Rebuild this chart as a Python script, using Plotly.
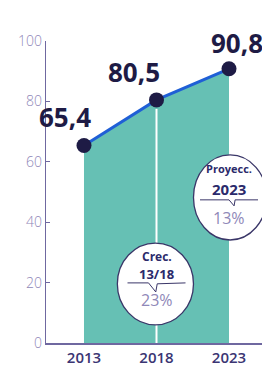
import plotly.graph_objects as go

years = [2013, 2018, 2023]
values = [65.4, 80.5, 90.8]
value_labels = ["65,4", "80,5", "90,8"]
y_ticks = [0, 20, 40, 60, 80, 100]
x_tick_labels = ["2013", "2018", "2023"]

NAVY = "#1e1b45"
TICK = "#8f88b8"
AXIS = "#6f68a0"
TEAL = "#66c0b4"
BLUE = "#1f5fd6"

fig = go.Figure()
fig.add_trace(go.Scatter(
    x=years, y=values, mode="lines+markers",
    fill="tozeroy", fillcolor=TEAL,
    line=dict(color=BLUE, width=3),
    marker=dict(size=15, color=NAVY),
    cliponaxis=False, hoverinfo="skip",
))

shapes = []
# white separator at 2018
shapes.append(dict(type="line", xref="x", yref="y", x0=years[1], x1=years[1],
                   y0=0, y1=values[1] - 3, line=dict(color="white", width=2), layer="above"))
# bubbles
shapes.append(dict(type="circle", xref="x", yref="y", x0=2020.55, x1=2025.6,
                   y0=34.1, y1=62.3, fillcolor="white",
                   line=dict(color="#3a3668", width=1.3), layer="above"))
shapes.append(dict(type="circle", xref="x", yref="y", x0=2015.3, x1=2020.55,
                   y0=6.0, y1=33.1, fillcolor="white",
                   line=dict(color="#3a3668", width=1.3), layer="above"))
# divider lines with notch inside bubbles
shapes.append(dict(type="path", xref="x", yref="y",
                   path="M 2021.0 47.4 L 2023.0 47.4 L 2023.35 45.4 L 2023.42 47.4 L 2025.0 47.4",
                   line=dict(color="#3a3668", width=1), layer="above"))
shapes.append(dict(type="path", xref="x", yref="y",
                   path="M 2016.0 19.9 L 2017.45 19.9 L 2017.95 16.9 L 2018.05 19.6 L 2020.0 19.9",
                   line=dict(color="#3a3668", width=1), layer="above"))

annotations = []
label_pos = [(2011.7, 74.8), (2016.45, 89.7), (2023.55, 99.3)]
for (lx, ly), t in zip(label_pos, value_labels):
    annotations.append(dict(x=lx, y=ly, xref="x", yref="y", text=f"<b>{t}</b>",
                            showarrow=False, font=dict(family="Open Sans", size=26, color=NAVY)))

bubble_texts = [
    (2023.0, 57.9, "<b>Proyecc.</b>", 11, "#2b2a6b"),
    (2023.0, 51.0, "<b>2023</b>", 15, "#2b2a6b"),
    (2023.0, 41.4, "13%", 16, TICK),
    (2018.0, 28.5, "<b>Crec.</b>", 12, "#2b2a6b"),
    (2018.0, 22.7, "<b>13/18</b>", 13, "#2b2a6b"),
    (2018.0, 14.2, "23%", 16, TICK),
]
for bx, by, t, s, c in bubble_texts:
    annotations.append(dict(x=bx, y=by, xref="x", yref="y", text=t, showarrow=False,
                            font=dict(family="Open Sans", size=s, color=c)))

# page body has an 8px margin, so the figure is sized/offset to compensate
fig.update_layout(
    width=262, height=362,
    margin=dict(l=38, r=3, t=33, b=27, autoexpand=False),
    paper_bgcolor="white", plot_bgcolor="white",
    showlegend=False,
    shapes=shapes, annotations=annotations,
    xaxis=dict(range=[2010.38, 2025.62], tickvals=years, ticktext=x_tick_labels,
               showgrid=False, zeroline=False, showline=True, linecolor=AXIS, linewidth=1.5,
               ticks="", automargin=False,
               tickfont=dict(family="Open Sans", size=15, color="#3b3573", weight=600)),
    yaxis=dict(range=[0, 100], tickvals=y_ticks, showgrid=False, zeroline=False,
               showline=True, linecolor=AXIS, linewidth=1.2, ticks="inside", ticklen=4,
               tickcolor=AXIS, automargin=False,
               tickfont=dict(family="Open Sans", size=14, color=TICK, weight=300)),
)

fig.write_html("out.html")
